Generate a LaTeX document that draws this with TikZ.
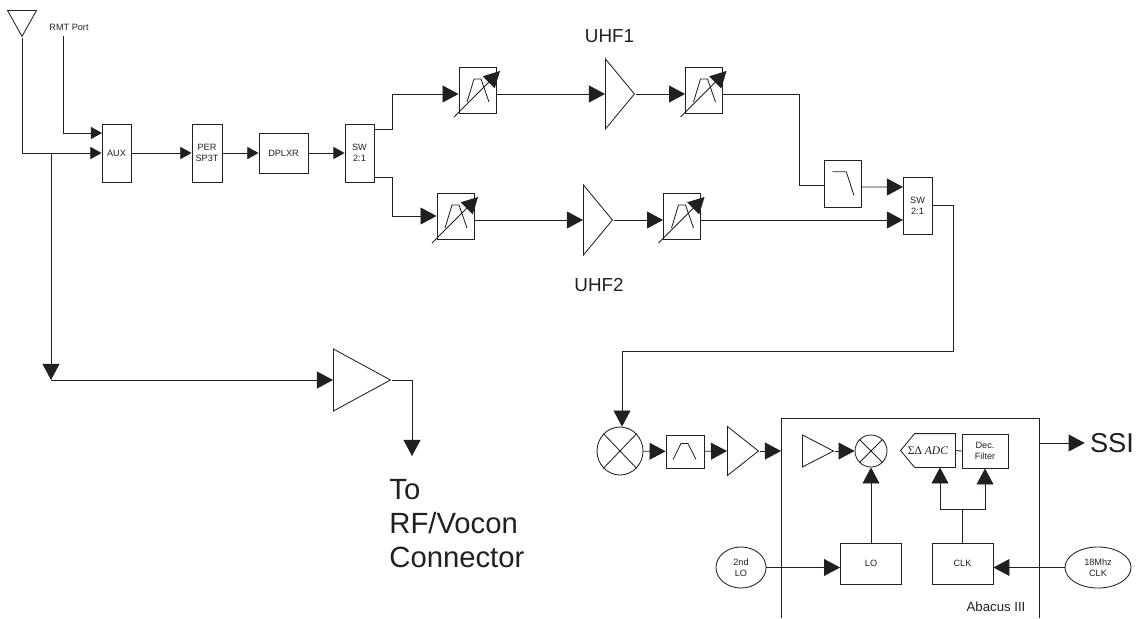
\documentclass[tikz,border=0pt]{standalone}
\usepackage{fontspec}
\setmainfont{Liberation Sans}
\newfontfamily\adcfont{Liberation Serif}
\usepackage{tikz}
\usetikzlibrary{arrows.meta,shapes.geometric}
\definecolor{ink}{HTML}{231F20}
\newcommand{\tinytext}{\fontsize{6.5}{7.8}\selectfont}
\tikzset{
  block/.style n args={2}{draw, rectangle, inner sep=0pt, align=center, font=\tinytext, minimum width=#1, minimum height=#2},
  amp/.style n args={2}{draw, isosceles triangle, isosceles triangle stretches, inner sep=0pt, anchor=lower side, minimum height=#1, minimum width=#2},
  round/.style n args={2}{draw, ellipse, inner sep=0pt, align=center, font=\tinytext, minimum width=#1, minimum height=#2},
  uhflabel/.style={inner sep=0pt, font=\fontsize{13.4}{16}\selectfont},
  biglabel/.style={inner sep=0pt, align=left, font=\fontsize{20.8}{24.2}\selectfont},
  smalltip/.style={-{Triangle[length=8pt,width=8.7pt]}}
}
\begin{document}
\begin{tikzpicture}[x=0.025cm, y=-0.025cm, color=ink, line width=0.6pt, >={Triangle[length=11.4pt,width=12pt]}]
        \useasboundingbox (0,0) rectangle (1141,618);
        % front end
        \node[amp={0.65cm}{0.725cm}, shape border rotate=-90] (antenna) at (22,10) {};
        \node[inner sep=0pt, font=\tinytext] (rmtport) at (69,27) {RMT Port};
        \coordinate (rmtend) at (63,36);
        \coordinate (auxup) at (102,133);
        \coordinate (split) at (51,153);
        \coordinate (bend) at (51,380);
        \node[block={0.725cm}{1.45cm}] (aux) at (116.5,153) {AUX};
        \node[block={0.75cm}{1.45cm}] (per) at (207,153) {PER\\SP3T};
        \node[block={1.225cm}{1cm}] (dplxr) at (283.5,153) {DPLXR};
        \node[block={0.725cm}{1.45cm}] (swa) at (359.5,153) {SW\\2:1};
        \coordinate (swaup) at (374,129);
        \coordinate (swadown) at (374,177);
        % uhf chains
        \node[block={0.925cm}{1.15cm}] (bpfa) at (477.5,90) {};
        \node[amp={0.725cm}{1.75cm}] (ampa) at (605,94) {};
        \node[block={0.925cm}{1.15cm}] (bpfc) at (704,90) {};
        \node[block={0.925cm}{1.15cm}] (bpfb) at (455.5,216) {};
        \node[amp={0.725cm}{1.75cm}] (ampb) at (583,220) {};
        \node[block={0.925cm}{1.15cm}] (bpfd) at (682,216) {};
        \node[block={0.925cm}{1.175cm}] (lpf) at (843,183.5) {};
        \node[block={0.725cm}{1.425cm}] (swb) at (917.5,205.5) {SW\\2:1};
        \coordinate (swbup) at (903,187);
        \coordinate (swblow) at (903,220);
        \node[uhflabel] (uhfa) at (609.5,36) {UHF1};
        \node[uhflabel] (uhfb) at (599,285) {UHF2};
        \foreach \f in {bpfa, bpfb, bpfc, bpfd} {
          \draw ([shift={(-10.5,12)}]\f.center) -- ([shift={(-3.5,-11)}]\f.center) -- ([shift={(3.5,-11)}]\f.center) -- ([shift={(11.5,12)}]\f.center);
          \draw[->] ([shift={(-23.5,27)}]\f.center) -- ([shift={(22.5,-19)}]\f.center);
        }
        \draw ([shift={(-10.7,-11.7)}]lpf.center) -- ([shift={(3.3,-11.7)}]lpf.center) -- ([shift={(11,12)}]lpf.center);
        % bypass path
        \node[amp={1.425cm}{1.55cm}] (rfamp) at (333,380) {};
        \coordinate (rfout) at (412,456);
        \node[biglabel, anchor=west] (connector) at (389,523.5) {To\\RF/Vocon\\Connector};
        % if chain
        \coordinate (ifturn) at (622,351);
        \node[round={1.15cm}{1.2cm}] (mixa) at (620,451) {};
        \node[block={0.95cm}{0.825cm}] (bpfe) at (685,451.5) {};
        \node[amp={0.775cm}{1.225cm}] (ampc) at (727,451) {};
        \coordinate (abacusin) at (781,451);
        \draw ([shift={(-12,8)}]bpfe.center) -- ([shift={(-4,-8)}]bpfe.center) -- ([shift={(3,-8)}]bpfe.center) -- ([shift={(11,8)}]bpfe.center);
        % abacus
        \draw (781,618) -- (781,418) -- (1039,418) -- (1039,618);
        \node[inner sep=0pt, font=\fontsize{9.4}{11}\selectfont] (abacus) at (996,607) {Abacus III};
        \node[amp={0.775cm}{0.8cm}] (ampd) at (802,451) {};
        \node[round={0.8cm}{0.8cm}] (mixb) at (871,451) {};
        \node[inner sep=0pt, minimum width=1.35cm, minimum height=0.825cm, font=\fontsize{8.2}{9}\adcfont] (adc) at (928,450.5) {ΣΔ \textit{ADC}};
        \draw (adc.west) -- ([shift={(14,0)}]adc.north west) -- (adc.north east) -- (adc.south east) -- ([shift={(14,0)}]adc.south west) -- cycle;
        \node[block={1.15cm}{0.85cm}] (dec) at (985,451) {Dec.\\Filter};
        \node[block={1.525cm}{1.025cm}] (lo) at (871,563.5) {LO};
        \node[block={1.525cm}{1.025cm}] (clk) at (962.5,563.5) {CLK};
        \coordinate (clksplit) at (962.5,509);
        \node[round={1.25cm}{1.025cm}] (secondlo) at (741,567.5) {2nd\\LO};
        \node[round={1.65cm}{1.025cm}] (refclk) at (1098,567.5) {18Mhz\\CLK};
        \coordinate (ssiout) at (1039,443);
        \node[inner sep=3.5pt, font=\fontsize{19.4}{23}\selectfont] (ssi) at (1112,443) {SSI};
        \foreach \m in {mixa, mixb} {
          \draw (\m.north west) -- (\m.south east);
          \draw (\m.north east) -- (\m.south west);
        }
        % connectors
        \draw[smalltip] (antenna.apex) |- (aux.west);
        \draw[smalltip] (rmtend) |- (auxup);
        \draw[->] (split) -- (bend);
        \draw[->] (bend) -- (rfamp.lower side);
        \draw[->] (rfamp.apex) -| (rfout);
        \draw[smalltip] (aux) -- (per);
        \draw[smalltip] (per) -- (dplxr);
        \draw[smalltip] (dplxr) -- (swa);
        \draw[->] (swaup) -- ++(18,0) |- ([shift={(0,4)}]bpfa.west);
        \draw[->] (swadown) -- ++(18,0) |- (bpfb.west);
        \draw[->] ([shift={(0,4)}]bpfa.east) -- (ampa.lower side);
        \draw[->] (ampa.apex) -- ([shift={(0,4)}]bpfc.west);
        \draw[->] ([shift={(0,4)}]bpfb.east) -- (ampb.lower side);
        \draw[->] (ampb.apex) -- ([shift={(0,4)}]bpfd.west);
        \draw ([shift={(0,4)}]bpfc.east) -- ++(76,0) |- ([shift={(0,1.5)}]lpf.west);
        \draw[->] ([shift={(0,3.5)}]lpf.east) -- (swbup);
        \draw[->] ([shift={(0,4)}]bpfd.east) -- (swblow);
        \draw[->] (swb.east) -- ++(21,0) |- (ifturn) -- (mixa.north -| ifturn);
        \draw[->] (mixa) -- (bpfe);
        \draw[->] (bpfe) -- (ampc.lower side);
        \draw[->] (ampc.apex) -- (abacusin);
        \draw[->] (ampd.apex) -- (mixb.west);
        \draw[->] (lo.north) -- (mixb.south);
        \draw[->] (secondlo.east) -- (lo.west |- secondlo.east);
        \draw[->] (refclk.west) -- (clk.east |- refclk.west);
        \draw (clk.north) -- (clksplit);
        \draw[->] (clksplit) -| ([shift={(12,0)}]adc.south);
        \draw[->] (clksplit) -| (dec.south);
        \draw (adc.east) -- (dec.west);
        \draw[->] (ssiout) -- (ssi.west);
      \end{tikzpicture}
\end{document}
